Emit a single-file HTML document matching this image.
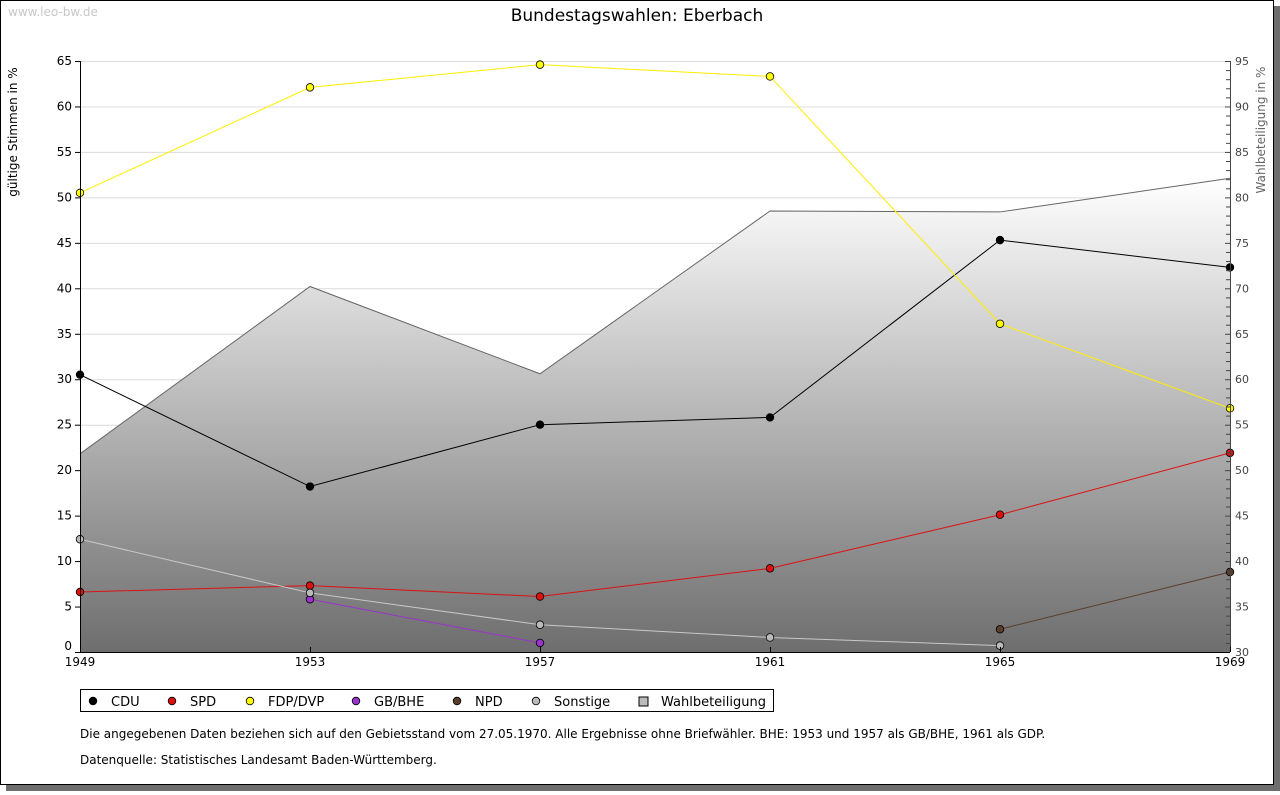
<!DOCTYPE html>
<html><head><meta charset="utf-8"><style>
body{margin:0;background:#fff;font-family:"DejaVu Sans","Liberation Sans",sans-serif;}
svg text{font-family:"DejaVu Sans","Liberation Sans",sans-serif;}
</style></head><body>
<svg id="c" width="1280" height="791" xmlns="http://www.w3.org/2000/svg">
<defs><linearGradient id="g" x1="0" y1="0" x2="0" y2="1"><stop offset="0" stop-color="#ffffff"/><stop offset="1" stop-color="#6e6e6e"/></linearGradient></defs>
<rect x="6" y="6" width="1274" height="785" fill="#6e6e6e"/>
<rect x="0.5" y="0.5" width="1273" height="784" fill="#fff" stroke="#000"/>
<text x="8" y="16" font-size="12" fill="#c8c8c8">www.leo-bw.de</text>
<text x="637" y="21" font-size="17" text-anchor="middle">Bundestagswahlen: Eberbach</text>
<text transform="translate(17,132) rotate(-90)" font-size="12" text-anchor="middle">gültige Stimmen in %</text>
<text transform="translate(1265,130) rotate(-90)" font-size="12" fill="#666" text-anchor="middle">Wahlbeteiligung in %</text>
<g id="grid"></g><g id="area"></g><g id="lines"></g><g id="axes"></g>
<rect x="80.5" y="689.5" width="693" height="22" fill="#fff" stroke="#000"/>
<g id="legend"></g>
<text x="80" y="738" font-size="12">Die angegebenen Daten beziehen sich auf den Gebietsstand vom 27.05.1970. Alle Ergebnisse ohne Briefwähler. BHE: 1953 und 1957 als GB/BHE, 1961 als GDP.</text>
<text x="80" y="764" font-size="12">Datenquelle: Statistisches Landesamt Baden-Württemberg.</text>
</svg>
<script>
const years=[1949,1953,1957,1961,1965,1969];
const cdu=[30.5,18.2,25.0,25.8,45.3,42.3];
const spd=[6.6,7.3,6.1,9.2,15.1,21.9];
const fdp=[50.5,62.1,64.6,63.3,36.1,26.8];
const bhe=[null,5.8,1.0,null,null,null];
const npd=[null,null,null,null,2.5,8.8];
const sonst=[12.4,6.5,3.0,1.6,0.7,null];
const wahl=[51.8,70.2,60.6,78.5,78.4,82.1];
const leftTicks=[0,5,10,15,20,25,30,35,40,45,50,55,60,65];
const rightTicks=[30,35,40,45,50,55,60,65,70,75,80,85,90,95];
const NS='http://www.w3.org/2000/svg';
const X0=80,X1=1230,Y0=652,Y1=61;
const x=i=>X0+(X1-X0)*i/(years.length-1);
const y=v=>Y0-(v/65)*(Y0-Y1);
const y2=v=>Y0-((v-30)/65)*(Y0-Y1);
function mk(p,t,a){const e=document.createElementNS(NS,t);for(const k in a)e.setAttribute(k,a[k]);document.getElementById(p).appendChild(e);return e;}
leftTicks.forEach(v=>{
 if(v>0){const l=mk('grid','line',{x1:X0,x2:X1,y1:y(v)+.5,y2:y(v)+.5,stroke:'#dcdcdc'});
 
 }
 mk('axes','line',{x1:X0-5,x2:X0,y1:y(v)+.5,y2:y(v)+.5,stroke:'#000'});
 const t=mk('axes','text',{x:X0-8,y:y(v)+(v==0?-2:4),'font-size':12,'text-anchor':'end'});t.textContent=v;
 
 
});
for(let v=30;v<=95;v++){mk('axes','line',{x1:X1,x2:X1-(v%5==0?5:4),y1:y2(v)+.5,y2:y2(v)+.5,stroke:'#444'});}
rightTicks.forEach(v=>{const t=mk('axes','text',{x:X1+5,y:y2(v)+4,'font-size':11,fill:'#444'});t.textContent=v;
 
 });
let d='M'+x(0)+','+Y0;wahl.forEach((v,i)=>d+=' L'+x(i)+','+y2(v));d+=' L'+x(years.length-1)+','+Y0+'Z';
const ar=mk('area','path',{d:d,fill:'url(#g)'});


const al=mk('area','polyline',{points:wahl.map((v,i)=>x(i)+','+y2(v)).join(' '),fill:'none',stroke:'#666'});
mk('axes','line',{x1:X0+.5,x2:X0+.5,y1:Y1,y2:Y0,stroke:'#000'});
mk('axes','line',{x1:X0,x2:X1,y1:Y0+.5,y2:Y0+.5,stroke:'#000'});
mk('axes','line',{x1:X1+.5,x2:X1+.5,y1:Y1,y2:Y0,stroke:'#444'});
years.forEach((yr,i)=>{mk('axes','line',{x1:x(i)+.5,x2:x(i)+.5,y1:Y0-5,y2:Y0,stroke:'#000'});
 const t=mk('axes','text',{x:x(i),y:Y0+14,'font-size':12,'text-anchor':'middle'});t.textContent=yr;
 
 });
const series=[['cdu',cdu,'#000','#000'],['spd',spd,'#dd1111','#dd1111'],['fdp',fdp,'#ffee00','#ffff00'],['bhe',bhe,'#9933cc','#9933cc'],['npd',npd,'#5a3d2b','#5a3d2b'],['sonstige',sonst,'#c8c8c8','#bbbbbb']];
series.forEach(([n,vals,lc,fc])=>{
 const pts=[];vals.forEach((v,i)=>{if(v!=null)pts.push(x(i)+','+y(v));});
 const pl=mk('lines','polyline',{points:pts.join(' '),fill:'none',stroke:lc,'stroke-width':1});
 
 
 vals.forEach((v,i)=>{if(v==null)return;const c=mk('lines','circle',{cx:x(i),cy:y(v),r:3.8,fill:fc,stroke:'#000','stroke-width':0.8});
 
 });
});
const leg=[['CDU','#000',0],['SPD','#dd1111',0],['FDP/DVP','#ffff00',0],['GB/BHE','#9933cc',0],['NPD','#5a3d2b',0],['Sonstige','#bbbbbb',0],['Wahlbeteiligung','#bbbbbb',1]];
const lx=[93,172,250,356,457,536,643];
leg.forEach(([n,c,sq],i)=>{
 const m=sq?mk('legend','rect',{x:lx[i]-4,y:697,width:9,height:9,fill:c,stroke:'#000'}):mk('legend','circle',{cx:lx[i],cy:701,r:3.8,fill:c,stroke:'#000','stroke-width':.8});
 const t=mk('legend','text',{x:lx[i]+18,y:706,'font-size':13});t.textContent=n;
 
 
});
</script>
</body></html>
